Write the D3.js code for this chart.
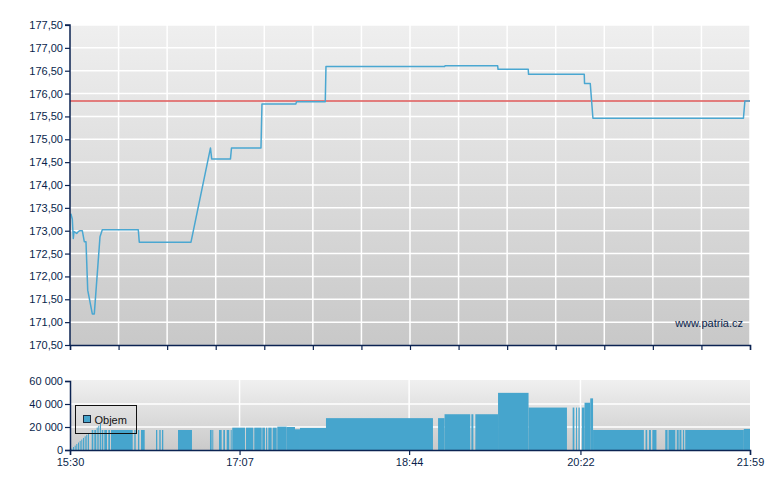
<!DOCTYPE html>
<html>
<head>
<meta charset="utf-8">
<script src="https://cdn.jsdelivr.net/npm/d3@7"></script>
<style>
html,body{margin:0;padding:0;background:#fff;}
svg{display:block;font-family:"Liberation Sans",Arial,sans-serif;}
</style>
</head>
<body>
<svg id="chart" width="780" height="490"></svg>
<script>
// ---------- DATA ----------
const sessionStart = "15:30:00";
const sessionEnd = "21:59:00";
const referencePrice = 175.84;

const priceTimes = ["15:30:30","15:31:19","15:31:53","15:32:17","15:33:50","15:34:45","15:35:43","15:37:02","15:38:11","15:39:09","15:40:08","15:42:46","15:43:54","15:47:10","15:48:29","16:09:04","16:09:38","16:39:13","16:50:22","16:51:03","17:01:48","17:02:23","17:19:15","17:19:49","17:39:06","17:39:40","17:56:02","17:56:26","19:04:16","19:04:30","19:34:38","19:34:52","19:52:09","19:52:19","20:24:11","20:24:21","20:27:37","20:29:09","21:55:14","21:56:05","21:59:00"];
const priceValues = [173.37,173.25,172.83,172.98,172.94,172.98,173.00,173.00,172.76,172.76,171.70,171.18,171.18,172.87,173.02,173.02,172.75,172.75,174.81,174.57,174.57,174.81,174.81,175.77,175.77,175.82,175.82,176.59,176.59,176.61,176.61,176.53,176.53,176.42,176.42,176.22,176.22,175.46,175.46,175.84,175.84];

const volStart = ["15:30:45","15:31:43","15:32:41","15:33:36","15:34:35","15:35:33","15:36:28","15:37:26","15:38:24","15:39:19","15:40:18","15:42:25","15:43:54","15:45:16","15:46:11","15:47:10","15:48:08","15:49:37","15:51:54","15:53:27","16:06:47","16:08:54","16:10:37","16:19:12","16:21:05","16:22:37","16:31:47","16:50:05","16:51:24","16:55:14","16:57:41","16:59:38","17:01:55","17:02:50","17:10:40","17:15:25","17:20:00","17:22:07","17:23:26","17:25:57","17:28:35","17:33:57","17:38:42","17:41:34","17:56:26","19:00:33","19:04:16","19:19:36","19:21:53","19:34:52","19:52:19","20:17:33","20:19:29","20:20:52","20:22:48","20:24:21","20:27:37","20:29:13","20:59:15","21:01:11","21:03:08","21:10:31","21:12:24","21:17:05","21:18:38","21:20:35","21:21:57","21:55:28"];
const volEnd = ["15:31:19","15:32:17","15:33:16","15:34:11","15:35:09","15:36:07","15:37:02","15:38:00","15:38:59","15:39:54","15:40:52","15:43:20","15:44:52","15:45:51","15:46:46","15:47:44","15:49:03","15:51:10","15:52:53","16:05:52","16:07:35","16:09:38","16:12:44","16:19:56","16:21:53","16:23:22","16:39:47","16:51:03","16:51:58","16:56:46","16:58:40","17:01:07","17:02:30","17:10:06","17:14:51","17:19:39","17:21:32","17:22:51","17:25:22","17:28:14","17:33:57","17:38:42","17:41:34","17:56:26","18:57:38","19:04:16","19:18:58","19:20:45","19:34:52","19:52:19","20:14:17","20:18:31","20:20:03","20:21:36","20:24:21","20:27:37","20:29:13","20:58:17","21:00:13","21:02:20","21:05:29","21:11:50","21:16:17","21:18:14","21:19:47","21:21:20","21:55:28","21:59:00"];
const volValues = [1200,2600,3800,5200,6500,7900,9100,10500,11900,13200,14500,17400,17400,19500,21000,22600,17400,17400,17400,17400,17400,17400,17400,17400,17400,17400,17400,17400,17400,17400,17400,17400,17400,19400,19400,19400,19400,19400,19400,19400,20300,20000,18000,19200,27700,27700,31100,31100,31100,49700,36900,36900,36900,36900,36900,41100,44900,17400,17400,17400,17400,17400,17400,17400,17400,17400,17400,18300];

const priceTicks = [170.5,171,171.5,172,172.5,173,173.5,174,174.5,175,175.5,176,176.5,177,177.5];
const volumeTicks = [0,20000,40000,60000];
const timeLabels = ["15:30","17:07","18:44","20:22","21:59"];
const priceGridIntervals = 14;
const legendLabel = "Objem";
const watermark = "www.patria.cz";

// ---------- SETUP ----------
const parseT = d3.timeParse("%H:%M:%S");
const parseHM = d3.timeParse("%H:%M");
const svg = d3.select("#chart");
const axisColor = "#0b2352";
const textColor = "#0a1f4c";
const lineColor = "#4aa7d1";
const barColor = "#46a5cd";

const L = 70, R = 750;
const x = d3.scaleTime().domain([parseT(sessionStart), parseT(sessionEnd)]).range([L, R]);
const y = d3.scaleLinear().domain([170.5, 177.5]).range([345, 25]);
const yv = d3.scaleLinear().domain([0, 60000]).range([450, 381]);

const defs = svg.append("defs");
function grad(id, c1, c2) {
  const g = defs.append("linearGradient").attr("id", id).attr("x1", 0).attr("y1", 0).attr("x2", 0).attr("y2", 1);
  g.append("stop").attr("offset", "0%").attr("stop-color", c1);
  g.append("stop").attr("offset", "100%").attr("stop-color", c2);
}
grad("gMain", "#efefef", "#c8c8c8");
grad("gVol", "#f0f0f0", "#cacaca");

const fmtPrice = d => d3.format(".2f")(d).replace(".", ",");
const fmtVol = d => d3.format(",")(d).replace(/,/g, " ");

// ---------- MAIN PRICE PANEL ----------
svg.append("rect").attr("x", L).attr("y", y(177.5)).attr("width", R - L).attr("height", y(170.5) - y(177.5)).attr("fill", "url(#gMain)");

const t0 = parseT(sessionStart).getTime(), t1 = parseT(sessionEnd).getTime();
const gridTimes = d3.range(priceGridIntervals + 1).map(i => new Date(t0 + i * (t1 - t0) / priceGridIntervals));

const gMainGrid = svg.append("g").attr("stroke", "#ffffff").attr("stroke-width", 1.5);
gMainGrid.selectAll("line.h").data(priceTicks.slice(1)).join("line")
  .attr("x1", L).attr("x2", R).attr("y1", d => y(d)).attr("y2", d => y(d));
gMainGrid.selectAll("line.v").data(gridTimes.slice(1)).join("line")
  .attr("x1", d => x(d)).attr("x2", d => x(d)).attr("y1", y(177.5)).attr("y2", y(170.5));

// reference line
svg.append("line").attr("x1", L).attr("x2", R).attr("y1", y(referencePrice)).attr("y2", y(referencePrice))
  .attr("stroke", "#e06a6a").attr("stroke-opacity", 0.85).attr("stroke-width", 2);

// price line
const priceData = priceTimes.map((t, i) => ({t: parseT(t), v: priceValues[i]}));
svg.append("path").datum(priceData)
  .attr("fill", "none").attr("stroke", lineColor).attr("stroke-width", 1.5).attr("stroke-linejoin", "round")
  .attr("d", d3.line().x(d => x(d.t)).y(d => y(d.v)));

// watermark
svg.append("text").attr("x", 743).attr("y", 327).attr("text-anchor", "end")
  .attr("font-size", 11).attr("fill", textColor).text(watermark);

// axes
const yAxis = svg.append("g").attr("transform", `translate(${L},0)`)
  .call(d3.axisLeft(y).tickValues(priceTicks).tickSize(5).tickPadding(2).tickFormat(fmtPrice));
const xAxisMain = svg.append("g").attr("transform", `translate(0,${y(170.5)})`)
  .call(d3.axisBottom(x).tickValues(gridTimes).tickSize(5).tickFormat(""));

// ---------- VOLUME PANEL ----------
svg.append("rect").attr("x", L).attr("y", 380).attr("width", R - L).attr("height", 70).attr("fill", "url(#gVol)");
const gVolGrid = svg.append("g").attr("stroke", "#ffffff").attr("stroke-width", 1.5);
gVolGrid.selectAll("line.h").data(volumeTicks.slice(1, 3)).join("line")
  .attr("x1", L).attr("x2", R).attr("y1", d => yv(d)).attr("y2", d => yv(d));
const labelTimes = timeLabels.map(parseHM).map(d => parseT(d3.timeFormat("%H:%M:%S")(d)));
gVolGrid.selectAll("line.v").data(labelTimes.slice(1, -1)).join("line")
  .attr("x1", d => x(d)).attr("x2", d => x(d)).attr("y1", 380).attr("y2", 450);

const volData = volStart.map((s, i) => ({s: parseT(s), e: parseT(volEnd[i]), v: volValues[i]}));
svg.append("g").selectAll("rect").data(volData).join("rect")
  .attr("x", d => x(d.s)).attr("width", d => Math.max(0.8, x(d.e) - x(d.s)))
  .attr("y", d => yv(d.v)).attr("height", d => yv(0) - yv(d.v))
  .attr("fill", barColor);

const yvAxis = svg.append("g").attr("transform", `translate(${L},0)`)
  .call(d3.axisLeft(yv).tickValues(volumeTicks).tickSize(5).tickPadding(2).tickFormat(fmtVol));
const xAxisVol = svg.append("g").attr("transform", `translate(0,${yv(0)})`)
  .call(d3.axisBottom(x).tickValues(labelTimes).tickSize(5).tickPadding(3).tickFormat(d3.timeFormat("%H:%M")));

// axis styling
[yAxis, xAxisMain, yvAxis, xAxisVol].forEach(a => {
  a.select(".domain").attr("stroke", axisColor).attr("stroke-width", 1.5);
  a.selectAll(".tick line").attr("stroke", axisColor).attr("stroke-width", 1.2);
  a.selectAll(".tick text").attr("fill", textColor).attr("font-size", 11).attr("font-family", "Liberation Sans, Arial, sans-serif");
});
yAxis.select(".domain").attr("d", `M-5,${y(177.5)}H0V${y(170.5)}`);

// legend
const lg = svg.append("g");
lg.append("rect").attr("x", 75.5).attr("y", 405.5).attr("width", 61).attr("height", 28)
  .attr("fill", "none").attr("stroke", "#111").attr("stroke-width", 1);
lg.append("rect").attr("x", 83.5).attr("y", 415.5).attr("width", 7).attr("height", 7)
  .attr("fill", barColor).attr("stroke", "#1c2b3f").attr("stroke-width", 1);
lg.append("text").attr("x", 94.5).attr("y", 423.5).attr("font-size", 11).attr("fill", "#111").text(legendLabel);
</script>
</body>
</html>
